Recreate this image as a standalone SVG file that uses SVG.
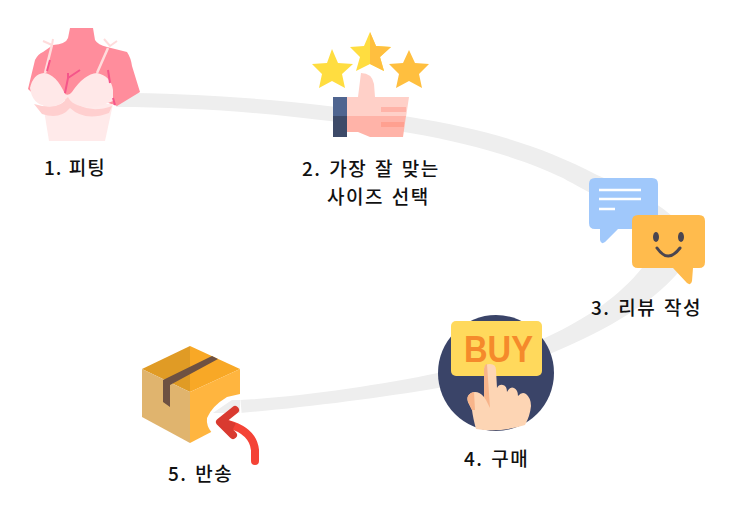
<svg xmlns="http://www.w3.org/2000/svg" width="740" height="516" viewBox="0 0 740 516">
<style>
.l{font-family:"Noto Sans CJK KR","Noto Sans",sans-serif;font-size:19px;font-weight:500;fill:#111;letter-spacing:1.5px;word-spacing:2px}
.band{fill:#eeeeee}
</style>
<rect width="740" height="516" fill="#fff"/>
<g id="connectors">
<path class="band" d="M116,93C200,93 300,100 410,117C480,128 540,145 597,175C625,187 652,198 672,216C692,240 690,262 676,275C652,302 612,328 552,353C510,369 470,382 438,388C380,398 300,408 240,413L240,400C300,397 380,385 438,373C480,362 520,350 547,337C590,317 620,295 642,268C650,250 640,225 610,205C590,192 575,185 563,178C530,162 480,145 410,133C320,118 220,107 116,107Z"/>
</g>
<g id="node-1">
<path fill="#ff8d9c" d="M70,28H93L95,40Q98,45 107,47L127,52Q131,58 132,66L140,92L117,106L100,100H40L28,89L35,60Q38,54 43,52L53,45Q66,44 68,38Z"/>
<path fill="#ffeaea" d="M43,104L49,141H105L113,104Z"/>
<path fill="#ffcfcf" d="M34,104Q60,112 68,96Q85,116 112,106L109,113Q85,122 70,108Q60,120 42,114Z"/>
<path fill="#ffe8e8" d="M30,88Q33,74 44,73Q56,74 65,94Q69,96 72,92Q84,74 97,73Q111,76 113,90L113,101Q100,107 88,107Q72,106 68,97Q60,108 46,106Q32,104 30,88Z"/>
<path fill="none" stroke="#ffdcdc" stroke-width="2.500" d="M45,73L52,45M97,73L108,48"/>
<path fill="none" stroke="#ffdcdc" stroke-width="2" d="M43,41L52,45L53,39M104,39L110,46L117,41"/>
<path fill="none" stroke="#f5558a" stroke-width="2" d="M50,60L47,71M65,93L68,78L80,70M68,78L68,73M108,70L110,83M113,98L115,105"/>
</g>
<g id="node-2">
<path fill="#ffdd40" d="M332,49L338,63L353,64L342,74L345,88L332,81L319,88L322,74L312,64L327,63Z"/>
<path fill="#ffdd40" d="M370,32L376,46L391,47L380,57L384,71L370,64L356,71L360,57L350,47L364,46Z"/>
<path fill="#ffbf3f" d="M370,32L376,46L391,47L380,57L384,71L370,64Z"/>
<path fill="#ffbf3f" d="M409,50L415,63L429,64L419,74L422,88L409,81L396,88L399,74L389,64L403,63Z"/>
<path fill="#ffd0c8" d="M347,97H358L361,73Q372,73 374,84L375,97H409L406,117H347Z"/>
<path fill="#ffb3a8" d="M347,116H406L403,137H370L358,132H347Z"/>
<rect x="381" y="107" width="25" height="5" fill="#ffb3a8"/>
<rect x="381" y="122" width="23" height="5" fill="#ffa090"/>
<rect x="333" y="97" width="14" height="20" fill="#4f6590"/>
<rect x="333" y="116" width="14" height="21" fill="#3d4a68"/>
</g>
<g id="node-3">
<path fill="#a0c8fb" d="M595,178H652Q658,178 658,184V223Q658,229 652,229H618L605,242Q601,245 600,240V229H595Q589,229 589,223V184Q589,178 595,178Z"/>
<path stroke="#fff" stroke-width="2.500" d="M599,190H641M599,199H641M599,209H615" fill="none"/>
<path fill="#ffbb4d" d="M638,215H699Q705,215 705,221V262Q705,268 699,268H693L692,281Q691,286 687,283L673,268H638Q632,268 632,262V221Q632,215 638,215Z"/>
<ellipse cx="656" cy="237" rx="3" ry="5" fill="#4a4550"/>
<ellipse cx="681" cy="237" rx="3" ry="5" fill="#4a4550"/>
<path d="M657,248Q668,264 680,248" fill="none" stroke="#4a4550" stroke-width="3" stroke-linecap="round"/>
</g>
<g id="node-4">
<circle cx="496" cy="373" r="58" fill="#3a4468"/>
<rect x="451" y="321" width="91" height="55" rx="5" fill="#ffd95c"/>
<text x="464" y="362" font-family="Liberation Sans, sans-serif" font-size="37" font-weight="700" fill="#f58a2b" textLength="69" lengthAdjust="spacingAndGlyphs">BUY</text>
<path fill="#fdd5b4" d="M484,369Q485,364 490,364Q496,364 496,370L497,388Q499,384 503,385Q507,386 507,392Q510,386 514,388Q518,390 518,396Q522,391 526,394Q531,398 531,406Q530,416 525,425Q500,433 476,429Q473,418 472,410L468,402Q466,396 471,393Q478,390 484,397Z"/>
<path fill="#f7b48a" d="M484,369Q485,364 487,364L490,408L486,400L484,397ZM468,402Q466,396 471,393L474,392L475,410L472,410Z"/>
</g>
<g id="node-5">
<path fill="#f8a826" d="M190,346L240,369L190,392Z"/>
<path fill="#e09b25" d="M190,346L142,369L190,392Z"/>
<path fill="#e0b46e" d="M142,369L190,392V443L142,417Z"/>
<path fill="#ffb53f" d="M240,369L190,392V443L240,417Z"/>
<path fill="#6e5142" d="M212,356L218,359L170,385V407L163,402V380Z"/>
<path fill="#fff" d="M240,394L227,397Q212,406 207,418Q206,426 212,433L242,418Z"/>
<path class="band" d="M232,400H240V413H213Q220,408 232,400Z"/>
<path d="M255,461V450Q253,431 228,424" fill="none" stroke="#f44336" stroke-width="8" stroke-linecap="round"/>
<path d="M235,410L220,422L233,435" fill="none" stroke="#d93a30" stroke-width="8" stroke-linecap="round" stroke-linejoin="round"/>
<path d="M220,422Q228,424 234,427" fill="none" stroke="#d93a30" stroke-width="8"/>
</g>
<text class="l" x="44" y="175" style="letter-spacing:1px;word-spacing:1px">1. 피팅</text>
<text class="l" x="302" y="176">2. 가장 잘 맞는</text>
<text class="l" x="327" y="204">사이즈 선택</text>
<text class="l" x="591" y="315">3. 리뷰 작성</text>
<text class="l" x="464" y="466">4. 구매</text>
<text class="l" x="168" y="481">5. 반송</text>
</svg>
